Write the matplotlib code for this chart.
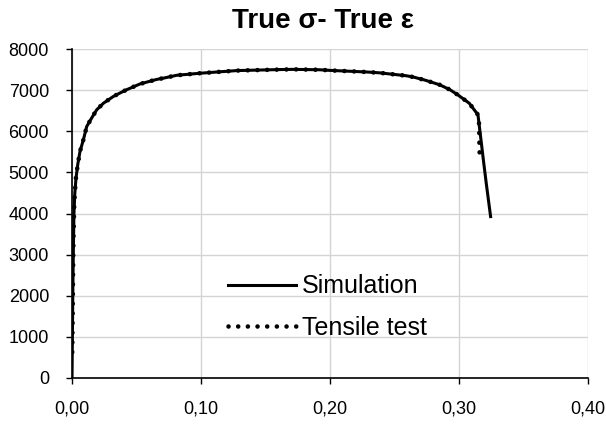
import matplotlib.pyplot as plt
from matplotlib.ticker import FuncFormatter

plt.rcParams['font.family'] = ['Liberation Sans', 'DejaVu Sans']

# simulated true stress - true strain curve
sim_strain = [0.0000, 0.0003, 0.0006, 0.0010, 0.0015, 0.0022, 0.0031, 0.0045, 0.0062,
              0.0088, 0.0114, 0.0152, 0.0191, 0.0243, 0.0320, 0.0372, 0.0424, 0.0527,
              0.0656, 0.0707, 0.0810, 0.0990, 0.1276, 0.1610, 0.1720, 0.1920, 0.2000,
              0.2290, 0.2386, 0.2590, 0.2644, 0.2740, 0.2850, 0.2930, 0.2993, 0.3080,
              0.3147, 0.3170, 0.3189, 0.3211, 0.3245]
sim_stress = [0, 1000, 2000, 3000, 4000, 4500, 4860, 5200, 5510,
              5790, 6115, 6320, 6520, 6680, 6845, 6930, 7010, 7150,
              7260, 7290, 7360, 7410, 7475, 7500, 7505, 7495, 7480,
              7440, 7420, 7350, 7320, 7240, 7130, 7010, 6880, 6680,
              6400, 5800, 5300, 4740, 3925]

# measured tensile test curve
test_strain = [0.0002, 0.0005, 0.0008, 0.0012, 0.0018, 0.0030, 0.0045, 0.0062, 0.0088,
               0.0114, 0.0152, 0.0191, 0.0243, 0.0320, 0.0372, 0.0424, 0.0527, 0.0656,
               0.0707, 0.0810, 0.0990, 0.1276, 0.1610, 0.1720, 0.1920, 0.2000, 0.2290,
               0.2386, 0.2590, 0.2644, 0.2740, 0.2850, 0.2930, 0.2993, 0.3080, 0.3147,
               0.3155, 0.3157, 0.3158, 0.3160]
test_stress = [630, 1500, 2500, 3500, 4300, 4850, 5200, 5510, 5790,
               6115, 6320, 6520, 6680, 6845, 6930, 7010, 7150, 7260,
               7290, 7360, 7410, 7475, 7500, 7505, 7495, 7480, 7440,
               7420, 7350, 7320, 7240, 7130, 7010, 6880, 6680, 6400,
               6195, 5950, 5690, 5440]

fig = plt.figure(figsize=(6.06, 4.25), dpi=100)
ax = fig.add_axes([72 / 606, 1 - 378 / 425, (588 - 72) / 606, (378 - 49) / 425])

ax.plot(sim_strain, sim_stress, color='black', lw=2.2, label='Simulation', zorder=3)
ax.plot(test_strain, test_stress, color='black', lw=3.3, linestyle=(0, (0.01, 2.1)),
        dash_capstyle='round', label='Tensile test', zorder=4)

ax.set_xlim(0, 0.40)
ax.set_ylim(0, 8000)
ax.set_xticks([0, 0.1, 0.2, 0.3, 0.4])
ax.set_yticks(range(0, 8001, 1000))
ax.xaxis.set_major_formatter(FuncFormatter(lambda v, p: f'{v:.2f}'.replace('.', ',')))
ax.grid(True, color='#d4d4d4', lw=1.0)
ax.set_axisbelow(True)
for side in ('top', 'right'):
    ax.spines[side].set_visible(False)
for side in ('left', 'bottom'):
    ax.spines[side].set_linewidth(1.2)
ax.tick_params(labelsize=13, length=4.5, width=1, pad=12, direction='out')

fig.text(323 / 606, 1 - 21 / 425, 'True σ- True ε', ha='center', va='center',
         fontsize=20, fontweight='bold')

ax.legend(loc='center left', bbox_to_anchor=(228 / 606, 1 - 307 / 425),
          bbox_transform=fig.transFigure, frameon=False, fontsize=18,
          handlelength=2.7, handletextpad=0.25, labelspacing=0.7,
          borderpad=0, borderaxespad=0)

fig.savefig('out.png', dpi=100)
